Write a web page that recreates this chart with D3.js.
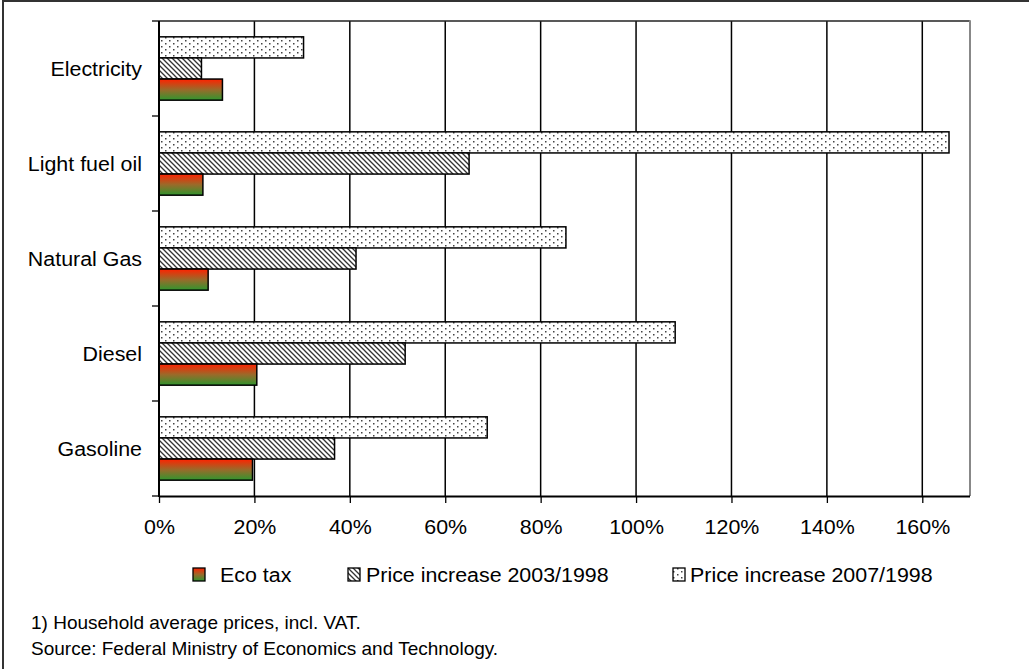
<!DOCTYPE html>
<html>
<head>
<meta charset="utf-8">
<script src="https://cdn.jsdelivr.net/npm/d3@7"></script>
<style>
  html, body { margin: 0; padding: 0; background: #fff; }
  svg { display: block; font-family: "Liberation Sans", Arial, sans-serif; }
</style>
</head>
<body>
<svg id="chart" width="1029" height="669"></svg>
<script>
// Energy categories, top to bottom
const categories = ["Electricity", "Light fuel oil", "Natural Gas", "Diesel", "Gasoline"];
// Series, in the order the bars appear within each group (top to bottom)
const seriesKeys = ["p2007", "p2003", "eco"];
const increase2007 = [0.303, 1.656, 0.853, 1.082, 0.688];
const increase2003 = [0.089, 0.650, 0.413, 0.516, 0.368];
const ecoTax = [0.133, 0.092, 0.103, 0.205, 0.196];
const tickValues = [0, 0.2, 0.4, 0.6, 0.8, 1.0, 1.2, 1.4, 1.6];
const legendLabels = ["Eco tax", "Price increase 2003/1998", "Price increase 2007/1998"];
const footnotes = ["1) Household average prices, incl. VAT.", "Source: Federal Ministry of Economics and Technology."];

const seriesValues = { p2007: increase2007, p2003: increase2003, eco: ecoTax };
const seriesFill = { p2007: "url(#dots)", p2003: "url(#hatch)", eco: "url(#ecoGrad)" };

const svg = d3.select("#chart");
const plot = { left: 159, right: 970, top: 21, bottom: 496 };
const FS = 20, SX = 1.07;

// Fills
const defs = svg.append("defs");
const grad = defs.append("linearGradient").attr("id", "ecoGrad")
  .attr("x1", 0).attr("y1", 0).attr("x2", 0).attr("y2", 1);
grad.append("stop").attr("offset", "0%").attr("stop-color", "#ff2200");
grad.append("stop").attr("offset", "50%").attr("stop-color", "#9a6a2a");
grad.append("stop").attr("offset", "100%").attr("stop-color", "#2f962f");

const dots = defs.append("pattern").attr("id", "dots")
  .attr("patternUnits", "userSpaceOnUse").attr("width", 8).attr("height", 6);
dots.append("rect").attr("width", 8).attr("height", 6).attr("fill", "#fff");
dots.append("rect").attr("x", 1).attr("y", 1).attr("width", 1.5).attr("height", 1.5).attr("fill", "#444");
dots.append("rect").attr("x", 5).attr("y", 4).attr("width", 1.5).attr("height", 1.5).attr("fill", "#444");

const hatch = defs.append("pattern").attr("id", "hatch")
  .attr("patternUnits", "userSpaceOnUse").attr("width", 5).attr("height", 5);
hatch.append("rect").attr("width", 5).attr("height", 5).attr("fill", "#fff");
hatch.append("path").attr("d", "M0,0L5,5M-1,4L1,6M4,-1L6,1")
  .attr("stroke", "#333").attr("stroke-width", 1.3);

// Scales
const x = d3.scaleLinear().domain([0, 1.7]).range([plot.left, plot.right]);
const y = d3.scaleBand().domain(categories).range([plot.top, plot.bottom]).padding(0);
const ySub = d3.scaleBand().domain(seriesKeys).range([0, y.bandwidth()])
  .paddingInner(0).paddingOuter(0.75);

// Outer frame (top and left edges)
svg.append("line").attr("x1", 3).attr("x2", 1029).attr("y1", 1).attr("y2", 1)
  .attr("stroke", "#333").attr("stroke-width", 2);
svg.append("line").attr("x1", 3).attr("x2", 3).attr("y1", 0).attr("y2", 669)
  .attr("stroke", "#333").attr("stroke-width", 2);

// Vertical gridlines
svg.append("g").selectAll("line").data(tickValues.slice(1)).join("line")
  .attr("x1", d => x(d)).attr("x2", d => x(d))
  .attr("y1", plot.top).attr("y2", plot.bottom)
  .attr("stroke", "#000").attr("stroke-width", 1.5);

// Plot-area border: top and right
svg.append("line").attr("x1", plot.left).attr("x2", plot.right)
  .attr("y1", plot.top).attr("y2", plot.top)
  .attr("stroke", "#222").attr("stroke-width", 1.5);
svg.append("line").attr("x1", plot.right).attr("x2", plot.right)
  .attr("y1", plot.top - 0.75).attr("y2", plot.bottom)
  .attr("stroke", "#888").attr("stroke-width", 2);

// Bars
const groups = svg.append("g").selectAll("g").data(categories).join("g")
  .attr("transform", d => `translate(0,${y(d)})`);
groups.selectAll("rect")
  .data((c, i) => seriesKeys.map(k => ({ key: k, value: seriesValues[k][i] })))
  .join("rect")
  .attr("x", x(0))
  .attr("y", d => ySub(d.key))
  .attr("width", d => x(d.value) - x(0))
  .attr("height", ySub.bandwidth())
  .attr("fill", d => seriesFill[d.key])
  .attr("stroke", "#000").attr("stroke-width", 1.5);

// X axis
const xAxis = d3.axisBottom(x).tickValues(tickValues).tickSize(7).tickPadding(14)
  .tickFormat(d3.format(".0%"));
const gx = svg.append("g").attr("transform", `translate(0,${plot.bottom})`).call(xAxis);
gx.select(".domain").attr("d", `M${plot.left},0.5H${plot.right}`)
  .attr("stroke", "#000").attr("stroke-width", 2);
gx.selectAll(".tick line").attr("stroke", "#000").attr("stroke-width", 1.3);
gx.selectAll(".tick text").attr("font-size", FS).attr("font-family", "Liberation Sans, Arial, sans-serif")
  .attr("fill", "#000").attr("transform", `scale(${SX},1)`)
  .attr("x", 0);
gx.selectAll(".tick text").attr("dy", null).attr("y", 38);

// Y axis: ticks at category boundaries, labels centred on each band
const boundaries = categories.map(c => y(c)).concat([plot.bottom]);
svg.append("line").attr("x1", plot.left).attr("x2", plot.left)
  .attr("y1", plot.top).attr("y2", plot.bottom + 1)
  .attr("stroke", "#000").attr("stroke-width", 2);
svg.append("g").selectAll("line").data(boundaries).join("line")
  .attr("x1", plot.left - 7).attr("x2", plot.left)
  .attr("y1", d => d).attr("y2", d => d)
  .attr("stroke", "#000").attr("stroke-width", 1.3);
svg.append("g").selectAll("g").data(categories).join("g")
  .attr("transform", d => `translate(142,${y(d) + y.bandwidth() / 2 + 7.5}) scale(${SX},1)`)
  .append("text").attr("text-anchor", "end").attr("font-size", FS).attr("fill", "#000")
  .text(d => d);

// Legend
const legendItems = [
  { label: legendLabels[0], fill: seriesFill.eco, sx: 193, tx: 220 },
  { label: legendLabels[1], fill: seriesFill.p2003, sx: 348, tx: 366 },
  { label: legendLabels[2], fill: seriesFill.p2007, sx: 673, tx: 690 }
];
const lg = svg.append("g").selectAll("g").data(legendItems).join("g");
lg.append("rect").attr("x", d => d.sx).attr("y", 568).attr("width", 12).attr("height", 13)
  .attr("fill", d => d.fill).attr("stroke", "#000").attr("stroke-width", 1.3);
lg.append("g").attr("transform", d => `translate(${d.tx},582) scale(${SX},1)`)
  .append("text").attr("font-size", FS).attr("fill", "#000").text(d => d.label);

// Footnotes
svg.append("g").selectAll("g").data(footnotes).join("g")
  .attr("transform", (d, i) => `translate(31,${629 + i * 26})`)
  .append("text").attr("font-size", 19).attr("fill", "#000").text(d => d);
</script>
</body>
</html>
